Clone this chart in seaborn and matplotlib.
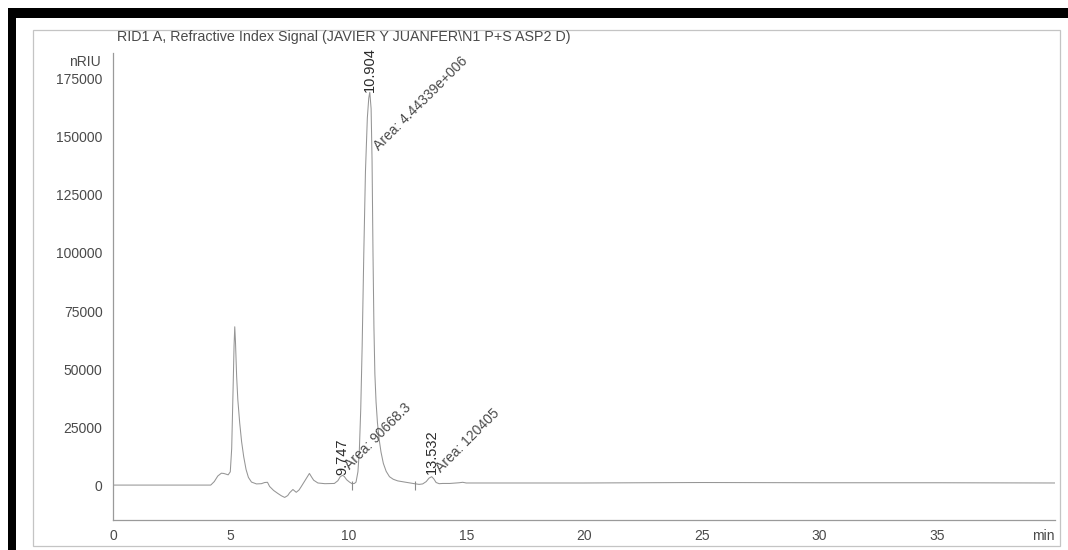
import numpy as np
import pandas as pd
import matplotlib
matplotlib.use("Agg")
import matplotlib.pyplot as plt
from matplotlib.patches import Rectangle
from matplotlib.ticker import MultipleLocator
import seaborn as sns

# Refractive index detector trace (retention time in min, signal in nRIU)
time_min = [0.0, 4.15, 4.3, 4.45, 4.6, 4.7, 4.8, 4.89, 4.98, 5.04, 5.1, 5.14, 5.17,
            5.2, 5.25, 5.3, 5.38, 5.46, 5.55, 5.65, 5.75, 5.88, 6.09, 6.3, 6.44,
            6.56, 6.65, 6.82, 7.0, 7.15, 7.29, 7.42, 7.5, 7.64, 7.78, 7.9, 7.99,
            8.15, 8.34, 8.43, 8.52, 8.7, 9.0, 9.4, 9.55, 9.65, 9.747, 9.82, 9.92,
            10.04, 10.15, 10.25, 10.32, 10.4, 10.46, 10.52, 10.58, 10.65, 10.72,
            10.8, 10.86, 10.904, 10.96, 11.0, 11.04, 11.08, 11.12, 11.17, 11.23,
            11.3, 11.38, 11.48, 11.6, 11.74, 11.9, 12.09, 12.44, 12.8, 13.0, 13.15,
            13.3, 13.42, 13.532, 13.62, 13.72, 13.85, 14.0, 14.3, 14.7, 14.85,
            15.0, 16.0, 20.0, 25.0, 30.0, 35.0, 40.0]
signal_nriu = [300, 300, 1800, 4200, 5400, 5300, 5000, 4700, 6000, 16000, 42000,
               60000, 68300, 62000, 47000, 37000, 27000, 19000, 12500, 7000, 3600,
               1600, 800, 900, 1400, 1500, -300, -2000, -3300, -4300, -5000, -4200,
               -3000, -1600, -2800, -1800, -400, 2200, 5300, 3800, 2400, 1200, 900,
               1000, 2200, 3900, 4500, 4000, 2600, 1600, 900, 1000, 1600, 6000,
               15000, 33000, 60000, 100000, 135000, 158000, 166500, 169000, 162000,
               140000, 100000, 68000, 48000, 36000, 27000, 20000, 14500, 9600, 6200,
               3900, 2800, 2100, 1500, 900, 600, 800, 1800, 3300, 3900, 3000, 1400,
               900, 1000, 1000, 1300, 1500, 1200, 1200, 1200, 1400, 1300, 1300, 1200]

# Integrated peaks
peak_rt = [9.747, 10.904, 13.532]
peak_height = [4500, 169000, 3900]
peak_area = ["90668.3", "4.44339e+006", "120405"]
# Integration event marks on the baseline
event_rt = [10.15, 12.83]

title = "RID1 A, Refractive Index Signal (JAVIER Y JUANFER\\N1 P+S ASP2 D)"
y_ticks = [0, 25000, 50000, 75000, 100000, 125000, 150000, 175000]
x_ticks = [0, 5, 10, 15, 20, 25, 30, 35]

sns.set_style("white")
plt.rcParams["font.family"] = ["Liberation Sans", "DejaVu Sans"]

W, H = 1068, 550
fig = plt.figure(figsize=(W / 100, H / 100), dpi=100)
fig.patch.set_facecolor("white")

def px_rect(x0, y0, x1, y1, **kw):
    return Rectangle((x0 / W, 1 - y1 / H), (x1 - x0) / W, (y1 - y0) / H,
                     transform=fig.transFigure, **kw)

# scanner frame and report box
fig.patches.append(px_rect(8, 8, W, 18, facecolor="black", edgecolor="none"))
fig.patches.append(px_rect(8, 8, 16, H, facecolor="black", edgecolor="none"))
fig.patches.append(px_rect(33, 30, 1060, 546, facecolor="none",
                           edgecolor="#c4c4c4", lw=0.9))

ax_l, ax_r, ax_t, ax_b = 113, 1055, 53, 520
ax = fig.add_axes([ax_l / W, 1 - ax_b / H, (ax_r - ax_l) / W, (ax_b - ax_t) / H])
ax.set_facecolor("none")

df = pd.DataFrame({"time": time_min, "signal": signal_nriu})
sns.lineplot(data=df, x="time", y="signal", ax=ax, estimator=None, sort=False,
             color="#959595", lw=0.75)

for rt in event_rt:
    ax.vlines(rt, -1600, 2200, color="#8a8a8a", lw=0.8)

ax.set_xlim(0, 40)
ax.set_ylim(-14700, 185900)
ax.set_xlabel("")
ax.set_ylabel("")

for s in ["top", "right"]:
    ax.spines[s].set_visible(False)
for s in ["left", "bottom"]:
    ax.spines[s].set_color("#9a9a9a")
    ax.spines[s].set_linewidth(0.9)

text_col = "#4a4a4a"
ax.set_xticks(x_ticks)
ax.set_yticks(y_ticks)
ax.xaxis.set_minor_locator(MultipleLocator(1))
ax.yaxis.set_minor_locator(MultipleLocator(5000))
ax.tick_params(axis="both", which="both", direction="out", colors="#9a9a9a",
               labelcolor=text_col, labelsize=10, width=0.8)
ax.tick_params(axis="y", which="major", length=5.5, pad=2)
ax.tick_params(axis="y", which="minor", length=2.5)
ax.tick_params(axis="x", which="major", length=4, pad=2.5)
ax.tick_params(axis="x", which="minor", length=3)

ax.annotate("min", xy=(1, 0), xycoords="axes fraction", xytext=(0, -6.8),
            textcoords="offset points", ha="right", va="top", fontsize=10,
            color=text_col)
ax.annotate("nRIU", xy=(0, 1), xycoords="axes fraction", xytext=(-8.5, -6.5),
            textcoords="offset points", ha="right", va="center", fontsize=10,
            color=text_col)
fig.text(117 / W, 1 - 37 / H, title, ha="left", va="center", fontsize=10.3,
         color=text_col)

# retention time and area labels
area_offsets = [(7, 2), (8.5, -44), (8.5, 1)]
rt_offsets = [0.5, 0.5, 2]
for rt, h, area, aoff, roff in zip(peak_rt, peak_height, peak_area,
                                   area_offsets, rt_offsets):
    ax.annotate(f"{rt:.3f}", xy=(rt, h), xytext=(0, roff),
                textcoords="offset points", rotation=90, ha="center",
                va="bottom", fontsize=10.5, color="#2a2a2a")
    ax.annotate(f"Area: {area}", xy=(rt, h), xytext=aoff,
                textcoords="offset points", rotation=45, rotation_mode="anchor",
                ha="left", va="bottom", fontsize=10, color=text_col)

fig.savefig("out.png", dpi=100, facecolor="white")
